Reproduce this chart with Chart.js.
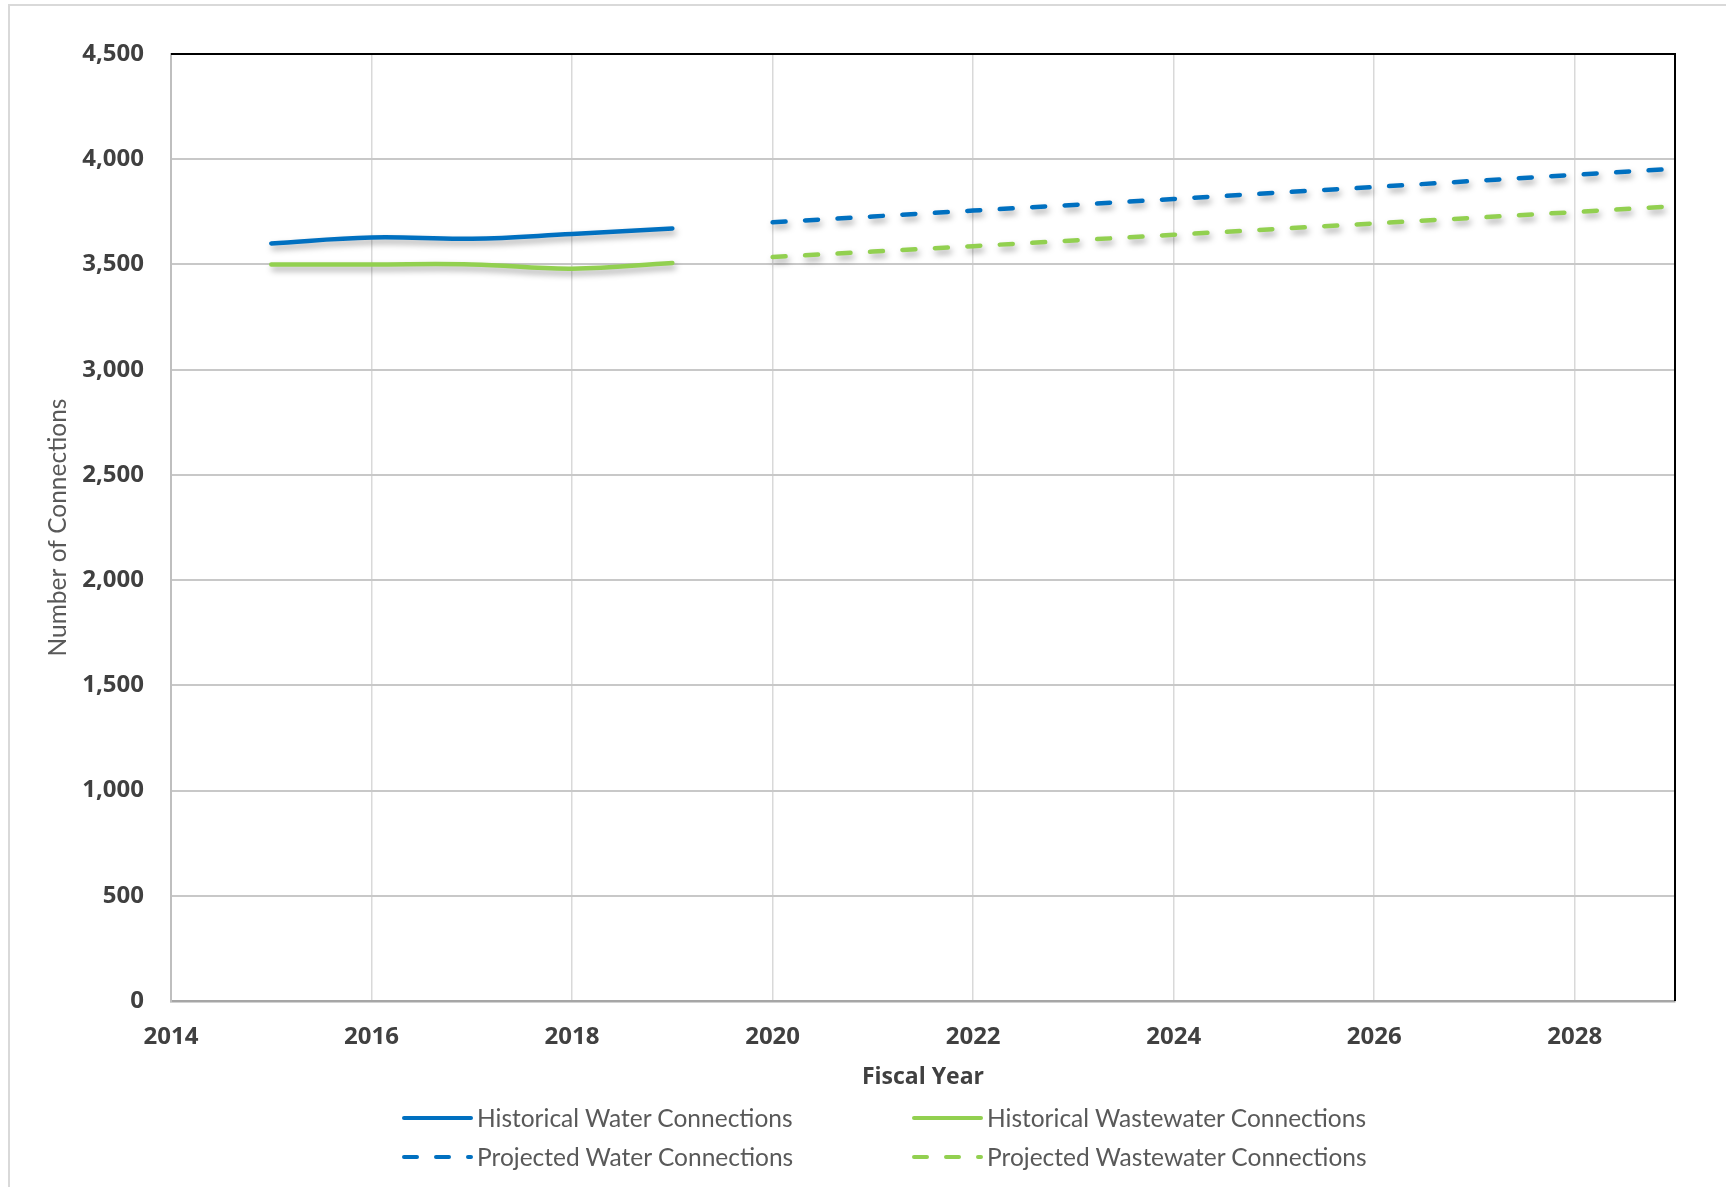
<!DOCTYPE html>
<html>
<head>
<meta charset="utf-8">
<script src="https://cdn.jsdelivr.net/npm/chart.js@4"></script>
<style>
  html, body { margin: 0; padding: 0; background: #fff; }
  #wrap { position: relative; width: 1726px; height: 1187px; overflow: hidden; }
  #frame { position: absolute; left: 8px; top: 4px; width: 1730px; height: 1200px; border-left: 2px solid #d9d9d9; border-top: 2px solid #d9d9d9; box-sizing: border-box; }
  canvas { position: absolute; left: 0; top: 0; }
  .lg { position: absolute; font-family: Lato, sans-serif; font-size: 24.5px; color: #595959; white-space: nowrap; line-height: 28px; }
  .lg svg { position: absolute; left: 0; top: 0; }
  .lg span { position: absolute; top: 0; }
</style>
</head>
<body>
<div id="wrap">
  <div id="frame"></div>
  <canvas id="c" width="1726" height="1187"></canvas>
  <div id="legend"></div>
</div>
<script>
const histYears = [2015, 2016, 2017, 2018, 2019];
const histWater = [3600, 3628, 3622, 3645, 3671];
const histWastewater = [3500, 3500, 3500, 3480, 3507];
const projYears = [2020, 2021, 2022, 2023, 2024, 2025, 2026, 2027, 2028, 2029];
const projWater = [3700, 3728, 3756, 3783, 3811, 3840, 3868, 3897, 3926, 3955];
const projWastewater = [3535, 3561, 3587, 3614, 3641, 3668, 3695, 3722, 3749, 3777];
const seriesLabels = ['Historical Water Connections', 'Historical Wastewater Connections', 'Projected Water Connections', 'Projected Wastewater Connections'];
const xTitle = 'Fiscal Year';
const yTitle = 'Number of Connections';

const BLUE = '#0070C0', GREEN = '#92D050';
const pts = (xs, ys) => xs.map((x, i) => ({x: x, y: ys[i]}));

const shadowPlugin = {
  id: 'shadow',
  beforeDatasetDraw(chart) {
    const ctx = chart.ctx;
    ctx.save();
    ctx.shadowColor = 'rgba(0,0,0,0.35)';
    ctx.shadowBlur = 6;
    ctx.shadowOffsetX = 2;
    ctx.shadowOffsetY = 4;
  },
  afterDatasetDraw(chart) { chart.ctx.restore(); }
};
const borderPlugin = {
  id: 'frameBorder',
  afterDraw(chart) {
    const {ctx, chartArea: a} = chart;
    ctx.save();
    ctx.strokeStyle = '#000';
    ctx.lineWidth = 2;
    ctx.beginPath();
    ctx.moveTo(a.left, a.top);
    ctx.lineTo(a.right, a.top);
    ctx.lineTo(a.right, a.bottom);
    ctx.stroke();
    ctx.restore();
  }
};

const common = { pointRadius: 0, pointHoverRadius: 0, borderWidth: 4.5, fill: false, borderCapStyle: 'round' };
const tickFont = { family: 'Open Sans', size: 24, weight: 'bold' };

const chart = new Chart(document.getElementById('c'), {
  type: 'line',
  data: {
    datasets: [
      Object.assign({ label: seriesLabels[0], data: pts(histYears, histWater), borderColor: BLUE, backgroundColor: BLUE, tension: 0.4 }, common),
      Object.assign({ label: seriesLabels[1], data: pts(histYears, histWastewater), borderColor: GREEN, backgroundColor: GREEN, tension: 0.4 }, common),
      Object.assign({ label: seriesLabels[2], data: pts(projYears, projWater), borderColor: BLUE, backgroundColor: BLUE, tension: 0, borderDash: [13, 19.5] }, common),
      Object.assign({ label: seriesLabels[3], data: pts(projYears, projWastewater), borderColor: GREEN, backgroundColor: GREEN, tension: 0, borderDash: [13, 19.5] }, common)
    ]
  },
  options: {
    responsive: false,
    animation: false,
    layout: { padding: { left: 0, top: 54, right: 51, bottom: 0 } },
    plugins: { legend: { display: false }, tooltip: { enabled: false } },
    scales: {
      x: {
        type: 'linear', min: 2014, max: 2029,
        ticks: { stepSize: 2, includeBounds: false, padding: 22, color: '#404040', font: tickFont, callback: v => String(v) },
        grid: { color: '#d9d9d9', lineWidth: 1.5, drawTicks: false },
        border: { color: '#a6a6a6', width: 2.5 },
        title: { display: true, text: xTitle, color: '#404040', font: { family: 'Open Sans', size: 23, weight: 'bold' }, padding: { top: 0, bottom: 96 } },
        afterFit: s => { s.height = 186; }
      },
      y: {
        min: 0, max: 4500,
        ticks: { stepSize: 500, padding: 27, color: '#404040', font: tickFont, callback: v => v.toLocaleString('en-US') },
        grid: { color: '#c8c8c8', lineWidth: 2, drawTicks: false },
        border: { color: '#bfbfbf', width: 2 },
        title: { display: true, text: yTitle, color: '#595959', font: { family: 'Lato', size: 24.5 }, padding: { top: 43, bottom: 0 } },
        afterFit: s => { s.width = 171; }
      }
    }
  },
  plugins: [shadowPlugin, borderPlugin]
});

// HTML legend built from the chart's datasets
const legendPos = [
  { x: 401, y: 1104 }, { x: 911, y: 1104 },
  { x: 401, y: 1143 }, { x: 911, y: 1143 }
];
const lg = document.getElementById('legend');
chart.data.datasets.forEach((ds, i) => {
  const p = legendPos[i];
  const d = document.createElement('div');
  d.className = 'lg';
  d.style.left = p.x + 'px';
  d.style.top = p.y + 'px';
  d.style.width = '440px';
  d.style.height = '28px';
  const dash = ds.borderDash ? 'stroke-dasharray="13 19"' : '';
  d.innerHTML = '<svg width="74" height="28"><line x1="3" y1="14" x2="70" y2="14" stroke="' + ds.borderColor + '" stroke-width="4" stroke-linecap="round" ' + dash + '/></svg>' +
    '<span style="left:76px">' + ds.label + '</span>';
  lg.appendChild(d);
});
</script>
</body>
</html>
